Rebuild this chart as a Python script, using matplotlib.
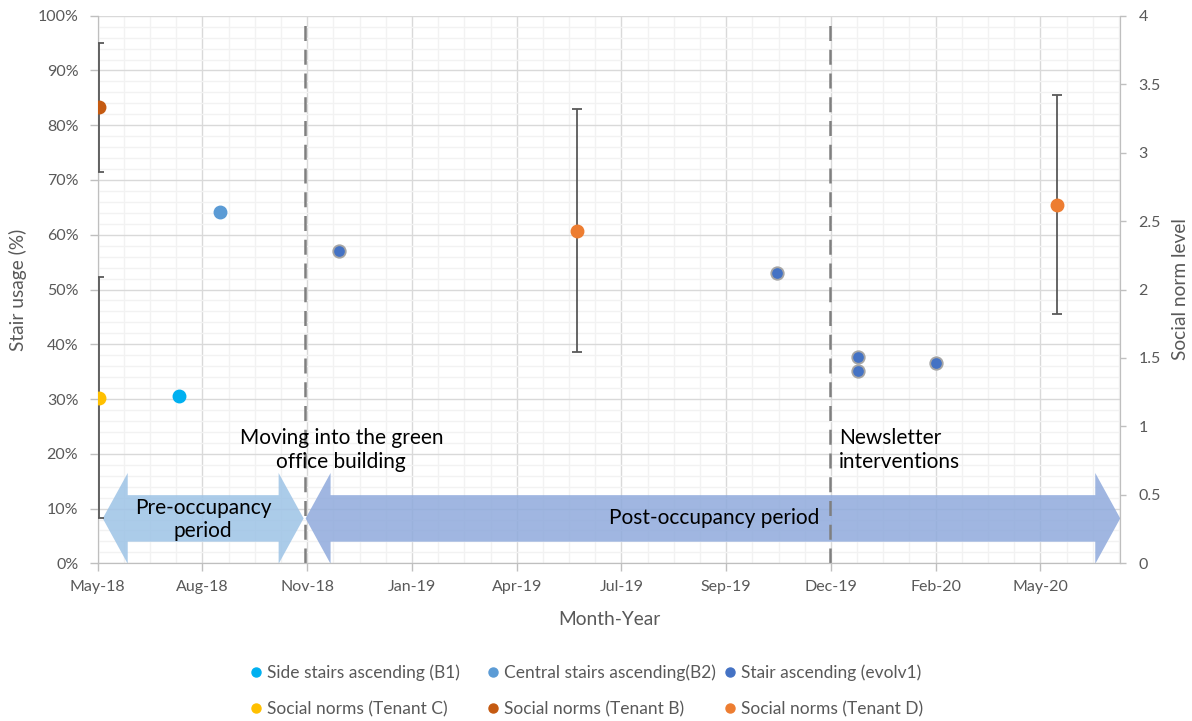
import datetime as dt
import matplotlib
matplotlib.use("Agg")
import matplotlib.pyplot as plt
import matplotlib.dates as mdates
from matplotlib.patches import Polygon
from matplotlib.lines import Line2D

plt.rcParams['font.family'] = ['Lato', 'DejaVu Sans']

D = dt.date

# ---- data -------------------------------------------------------------
side_b1_dates = [D(2018, 7, 28)]
side_b1_usage = [30.6]

central_b2_dates = [D(2018, 8, 28)]
central_b2_usage = [64.1]

evolv1_dates = [D(2018, 11, 27), D(2019, 10, 28), D(2019, 12, 29), D(2019, 12, 29), D(2020, 2, 26)]
evolv1_usage = [57.0, 53.0, 37.6, 35.2, 36.5]

tenant_c_dates = [D(2018, 5, 28)]
tenant_c_norm = [1.21]
tenant_c_err = [0.88]

tenant_b_dates = [D(2018, 5, 28)]
tenant_b_norm = [3.33]
tenant_b_err = [0.47]

tenant_d_dates = [D(2019, 5, 28), D(2020, 5, 29)]
tenant_d_norm = [2.43, 2.62]
tenant_d_err = [0.89, 0.80]

move_in_date = D(2018, 11, 1)
newsletter_date = D(2019, 12, 7)

axis_start = D(2018, 5, 27)
axis_end = D(2020, 7, 16)
tick_step_days = 80
tick_labels = ["May-18", "Aug-18", "Nov-18", "Jan-19", "Apr-19",
               "Jul-19", "Sep-19", "Dec-19", "Feb-20", "May-20"]

# ---- colours ----------------------------------------------------------
c_b1 = "#00B0F0"
c_b2 = "#5B9BD5"
c_ev = "#4472C4"
c_tc = "#FFC000"
c_tb = "#C55A11"
c_td = "#ED7D31"
txt_gray = "#595959"

W, H = 1192, 721
fig = plt.figure(figsize=(W / 100, H / 100), dpi=100)
ax = fig.add_axes([0.082, 0.2187, 0.8578, 0.7595])
ax2 = ax.twinx()

x0 = mdates.date2num(axis_start)
x1 = mdates.date2num(axis_end)
major = [x0 + k * tick_step_days for k in range(len(tick_labels))]
minor = [x0 + k * tick_step_days / 4 for k in range(int((x1 - x0) / (tick_step_days / 4)) + 1)]

ax.set_xlim(x0, x1)
ax.set_ylim(0, 100)
ax2.set_ylim(0, 4)

ax.set_xticks(major)
ax.set_xticklabels(tick_labels)
ax.set_xticks(minor, minor=True)
ax.set_yticks(range(0, 101, 10))
ax.set_yticklabels([f"{v}%" for v in range(0, 101, 10)])
ax.set_yticks(range(0, 101, 2), minor=True)
ax2.set_yticks([0, 0.5, 1, 1.5, 2, 2.5, 3, 3.5, 4])
ax2.set_yticklabels(["0", "0.5", "1", "1.5", "2", "2.5", "3", "3.5", "4"])

ax.grid(which="minor", color="#F2F2F2", lw=1.0, zorder=0)
ax.grid(which="major", color="#D9D9D9", lw=1.0, zorder=0)
ax.set_axisbelow(True)

for a in (ax, ax2):
    for s in a.spines.values():
        s.set_color("#BFBFBF")
    a.spines["top"].set_visible(False)
    a.tick_params(which="major", length=6, color="#BFBFBF", labelsize=11.5,
                  labelcolor=txt_gray, width=1)
    a.tick_params(which="minor", length=0)
ax.tick_params(axis="x", pad=6)
ax.tick_params(axis="y", pad=8)
ax2.tick_params(axis="y", length=4, pad=9)

ax.set_ylabel("Stair usage (%)", fontsize=13.8, color=txt_gray, va="center")
ax.yaxis.set_label_coords(-0.078, 0.5)
ax2.set_ylabel("Social norm level", fontsize=13.8, color=txt_gray, va="center",
               rotation=90)
ax2.yaxis.set_label_coords(1.0587, 0.5)
ax.set_xlabel("Month-Year", fontsize=13.8, color=txt_gray, va="center")
ax.xaxis.set_label_coords(0.5, -0.1035)

# ---- period arrows ------------------------------------------------------
def double_arrow(a, xa, xb, head_len, y_mid, shaft_h, head_h, color):
    pts = [(xa, y_mid), (xa + head_len, y_mid + head_h), (xa + head_len, y_mid + shaft_h),
           (xb - head_len, y_mid + shaft_h), (xb - head_len, y_mid + head_h), (xb, y_mid),
           (xb - head_len, y_mid - head_h), (xb - head_len, y_mid - shaft_h),
           (xa + head_len, y_mid - shaft_h), (xa + head_len, y_mid - head_h)]
    a.add_patch(Polygon(pts, closed=True, facecolor=color, edgecolor="none",
                        alpha=0.85, zorder=1))

xm = mdates.date2num(move_in_date)
day_per_px = tick_step_days / 104.8
double_arrow(ax, x0 + 5 * day_per_px, xm - 1 * day_per_px, 25 * day_per_px,
             8.2, 4.25, 8.3, "#9DC3E6")
double_arrow(ax, xm + 1 * day_per_px, x1, 25 * day_per_px,
             8.2, 4.25, 8.3, "#8FAADC")

# ---- event lines --------------------------------------------------------
for d in (move_in_date, newsletter_date):
    ax.plot([mdates.date2num(d)] * 2, [0, 99], color="#7F7F7F", lw=1.8,
            ls=(0, (6, 3.5)), zorder=2)

note_fs = 15
ax.text(mdates.date2num(D(2018, 11, 29)), 20.7, "Moving into the green\noffice building",
        ha="center", va="center", fontsize=note_fs, color="black", linespacing=1.2, zorder=3)
ax.text(mdates.date2num(D(2019, 12, 14)), 20.7, "Newsletter\ninterventions",
        ha="left", va="center", fontsize=note_fs, color="black", linespacing=1.2, zorder=3)
ax.text((x0 + xm) / 2 + 2 * day_per_px, 8.0, "Pre-occupancy\nperiod", ha="center",
        va="center", fontsize=note_fs, color="black", linespacing=1.2, zorder=3)
ax.text((xm + x1) / 2 + 2 * day_per_px, 8.2, "Post-occupancy period", ha="center",
        va="center", fontsize=note_fs, color="black", zorder=3)

# ---- stair usage (primary axis) ----------------------------------------
ms = 9
ax.plot(side_b1_dates, side_b1_usage, "o", color=c_b1, ms=ms, mec=c_b1, zorder=5)
ax.plot(central_b2_dates, central_b2_usage, "o", color=c_b2, ms=ms, mec=c_b2, zorder=5)
ax.plot(evolv1_dates, evolv1_usage, "o", color=c_ev, ms=ms, mec="#A5A5A5", mew=1.3, zorder=5)

# ---- social norms (secondary axis) -------------------------------------
eb = dict(fmt="o", ms=ms, ecolor="#595959", elinewidth=1.3, capsize=3.8, capthick=1.3, zorder=5)
ax2.errorbar(tenant_c_dates, tenant_c_norm, yerr=tenant_c_err, color=c_tc, mec=c_tc, **eb)
ax2.errorbar(tenant_b_dates, tenant_b_norm, yerr=tenant_b_err, color=c_tb, mec=c_tb, **eb)
ax2.errorbar(tenant_d_dates, tenant_d_norm, yerr=tenant_d_err, color=c_td, mec=c_td, **eb)
ax2.set_xlim(x0, x1)

# ---- legend: three equal-width columns ----------------------------------
def h(c):
    return Line2D([], [], ls="none", marker="o", ms=6.5, color=c, mec=c)

legend_cols = [
    ([h(c_b1), h(c_tc)], ["Side stairs ascending (B1)", "Social norms (Tenant C)"]),
    ([h(c_b2), h(c_tb)], ["Central stairs ascending(B2)", "Social norms (Tenant B)"]),
    ([h(c_ev), h(c_td)], ["Stair ascending (evolv1)", "Social norms (Tenant D)"]),
]
col_left_px = 251
col_width_px = 237
for i, (hs, ls) in enumerate(legend_cols):
    leg = fig.legend(hs, ls, ncol=1, loc="center left",
                     bbox_to_anchor=((col_left_px + i * col_width_px) / W, 0.0416),
                     frameon=False, fontsize=12.5, handlelength=0.6, handletextpad=0.3,
                     labelspacing=1.15, borderpad=0, borderaxespad=0)
    for t in leg.get_texts():
        t.set_color(txt_gray)

fig.savefig("out.png", dpi=100)
